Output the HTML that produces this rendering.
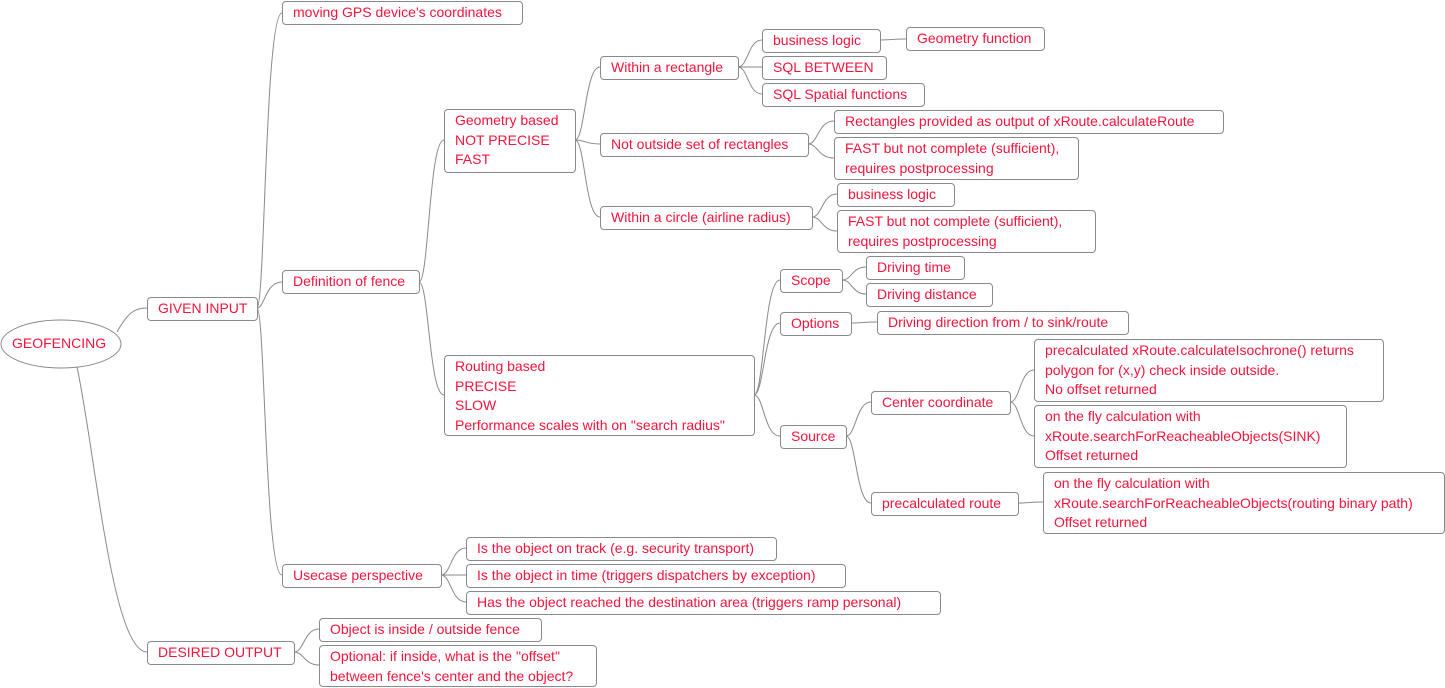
<!DOCTYPE html>
<html><head><meta charset="utf-8"><style>
body{margin:0;width:1445px;height:688px;background:#fff;position:relative;overflow:hidden;font-family:"Liberation Sans",Arial,sans-serif;}
.b{position:absolute;box-sizing:border-box;border:1px solid #8a8a8a;border-radius:4px;color:#f5143c;font-size:14px;line-height:19.5px;padding:1px 0 0 10px;white-space:nowrap;background:#fff}
svg{position:absolute;left:0;top:0}
</style></head><body>
<svg width="1445" height="688" fill="none" stroke="#8a8a8a" stroke-width="1">
<ellipse cx="61" cy="344" rx="60" ry="24"/>
<path d="M117,332 C128,312 135,308 147,308"/>
<path d="M77,367 C95,450 112,652 147,652"/>
<path d="M257,308 C265,308 265,13 282,13"/>
<path d="M257,308 C265,308 265,282 282,282"/>
<path d="M257,308 C265,308 265,575 282,575"/>
<path d="M419,282 C429,282 429,140 444,140"/>
<path d="M419,282 C429,282 429,395 444,395"/>
<path d="M575,140 C585,140 585,67 600,67"/>
<path d="M575,140 C585,140 585,144 600,144"/>
<path d="M575,140 C585,140 585,217 600,217"/>
<path d="M738,67 C748,67 748,40 762,40"/>
<path d="M738,67 C748,67 748,67 762,67"/>
<path d="M738,67 C748,67 748,94 762,94"/>
<path d="M880,40 C890,40 892,39 906,39"/>
<path d="M808,144 C818,144 818,121 834,121"/>
<path d="M808,144 C818,144 818,158 834,158"/>
<path d="M812,217 C822,217 822,194 837,194"/>
<path d="M812,217 C822,217 822,231 837,231"/>
<path d="M754,395 C764,395 764,280 780,280"/>
<path d="M754,395 C764,395 764,323 780,323"/>
<path d="M754,395 C764,395 764,436 780,436"/>
<path d="M842,280 C852,280 852,267 866,267"/>
<path d="M842,280 C852,280 852,294 866,294"/>
<path d="M851,323 C861,323 862,322 877,322"/>
<path d="M846,436 C856,436 856,402 871,402"/>
<path d="M846,436 C856,436 856,503 871,503"/>
<path d="M1010,402 C1020,402 1020,370 1034,370"/>
<path d="M1010,402 C1020,402 1020,436 1034,436"/>
<path d="M1018,503 C1028,503 1028,502 1043,502"/>
<path d="M441,575 C451,575 451,548 466,548"/>
<path d="M441,575 C451,575 451,575 466,575"/>
<path d="M441,575 C451,575 451,602 466,602"/>
<path d="M294,652 C304,652 304,629 319,629"/>
<path d="M294,652 C304,652 304,665 319,665"/>
</svg>
<div style="position:absolute;left:12px;top:335px;color:#f5143c;font-size:14px;">GEOFENCING</div>
<div class="b" style="left:282px;top:1px;width:241px;height:24px">moving GPS device's coordinates</div>
<div class="b" style="left:147px;top:297px;width:111px;height:24px">GIVEN INPUT</div>
<div class="b" style="left:282px;top:270px;width:138px;height:24px">Definition of fence</div>
<div class="b" style="left:444px;top:109px;width:132px;height:64px">Geometry based<br>NOT PRECISE<br>FAST</div>
<div class="b" style="left:600px;top:56px;width:139px;height:24px">Within a rectangle</div>
<div class="b" style="left:762px;top:29px;width:119px;height:24px">business logic</div>
<div class="b" style="left:906px;top:27px;width:139px;height:24px">Geometry function</div>
<div class="b" style="left:762px;top:56px;width:125px;height:24px">SQL BETWEEN</div>
<div class="b" style="left:762px;top:83px;width:163px;height:24px">SQL Spatial functions</div>
<div class="b" style="left:600px;top:133px;width:209px;height:24px">Not outside set of rectangles</div>
<div class="b" style="left:834px;top:110px;width:390px;height:24px">Rectangles provided as output of xRoute.calculateRoute</div>
<div class="b" style="left:834px;top:137px;width:245px;height:43px">FAST but not complete (sufficient),<br>requires postprocessing</div>
<div class="b" style="left:600px;top:206px;width:213px;height:24px">Within a circle (airline radius)</div>
<div class="b" style="left:837px;top:183px;width:118px;height:24px">business logic</div>
<div class="b" style="left:837px;top:210px;width:259px;height:43px">FAST but not complete (sufficient),<br>requires postprocessing</div>
<div class="b" style="left:444px;top:355px;width:311px;height:81px">Routing based<br>PRECISE<br>SLOW<br>Performance scales with on "search radius"</div>
<div class="b" style="left:780px;top:269px;width:63px;height:24px">Scope</div>
<div class="b" style="left:866px;top:256px;width:99px;height:24px">Driving time</div>
<div class="b" style="left:866px;top:283px;width:127px;height:24px">Driving distance</div>
<div class="b" style="left:780px;top:312px;width:72px;height:24px">Options</div>
<div class="b" style="left:877px;top:311px;width:252px;height:24px">Driving direction from / to sink/route</div>
<div class="b" style="left:780px;top:425px;width:67px;height:24px">Source</div>
<div class="b" style="left:871px;top:391px;width:140px;height:24px">Center coordinate</div>
<div class="b" style="left:1034px;top:339px;width:350px;height:63px">precalculated xRoute.calculateIsochrone() returns<br>polygon for (x,y) check inside outside.<br>No offset returned</div>
<div class="b" style="left:1034px;top:405px;width:313px;height:63px">on the fly calculation with<br>xRoute.searchForReacheableObjects(SINK)<br>Offset returned</div>
<div class="b" style="left:871px;top:492px;width:148px;height:24px">precalculated route</div>
<div class="b" style="left:1043px;top:472px;width:402px;height:62px">on the fly calculation with<br>xRoute.searchForReacheableObjects(routing binary path)<br>Offset returned</div>
<div class="b" style="left:282px;top:564px;width:160px;height:24px">Usecase perspective</div>
<div class="b" style="left:466px;top:537px;width:311px;height:24px">Is the object on track (e.g. security transport)</div>
<div class="b" style="left:466px;top:564px;width:380px;height:24px">Is the object in time (triggers dispatchers by exception)</div>
<div class="b" style="left:466px;top:591px;width:475px;height:24px">Has the object reached the destination area (triggers ramp personal)</div>
<div class="b" style="left:147px;top:641px;width:148px;height:24px">DESIRED OUTPUT</div>
<div class="b" style="left:319px;top:618px;width:223px;height:24px">Object is inside / outside fence</div>
<div class="b" style="left:319px;top:645px;width:278px;height:42px">Optional: if inside, what is the "offset"<br>between fence's center and the object?</div>
</body></html>
